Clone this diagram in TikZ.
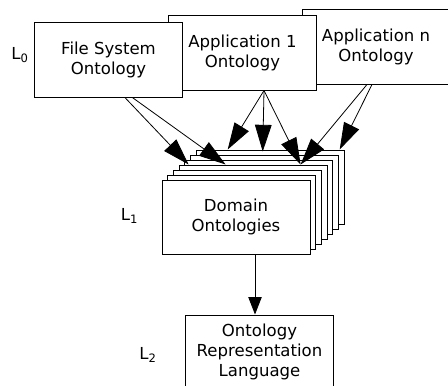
\documentclass[tikz,border=0pt]{standalone}
\usepackage{fontspec}
\setmainfont{DejaVu Sans}
\usetikzlibrary{positioning, calc, arrows.meta}

\begin{document}
\begin{tikzpicture}[
        x=0.75pt, y=-0.75pt,
        every node/.style={font=\fontsize{12.4}{15}\selectfont},
        box/.style={draw, fill=white, rectangle, line width=0.75pt, minimum height=55.5pt, minimum width=111pt, align=center, inner sep=0pt},
        level/.style={inner sep=0pt},
        arr/.style={-{Triangle[length=20pt, width=12.5pt]}, line width=0.6pt},
        smallarr/.style={-{Triangle[length=13pt, width=10pt]}, line width=0.6pt}
    ]
    \useasboundingbox (0,0) rectangle (448,385);

    % L0 ontologies
    \node[box] (appn) at (376,47) {Application n \\ Ontology};
    \node[box] (app1) at (242.5,53) {Application 1 \\ Ontology};
    \node[box] (fs) at (108.5,60) {File System \\ Ontology};

    % L1 stack, back to front
    \node[box] (dom6) at (270.2,187) {};
    \node[box] (dom5) at (264.5,192) {};
    \node[box] (dom4) at (258.8,197) {};
    \node[box] (dom3) at (253.1,202) {};
    \node[box] (dom2) at (247.4,207) {};
    \node[box] (dom1) at (241.7,212) {};
    \node[box] (dom) at (236,217) {Domain \\ Ontologies};

    % L2
    \node[box] (lang) at (259.5,352) {Ontology \\ Representation \\ Language};

    \node[level] (l0) at (20,55) {L\textsubscript{0}};
    \node[level] (l1) at (129.5,216) {L\textsubscript{1}};
    \node[level] (l2) at (148,355) {L\textsubscript{2}};

    % where the arrows leave and land
    \coordinate (fsout) at ($(fs.south west)!0.61!(fs.south east)$);
    \coordinate (fsout2) at ($(fs.south west)!0.66!(fs.south east)$);
    \coordinate (a1out) at ($(app1.south)+(21.5,0)$);
    \coordinate (anout) at ($(appn.south)+(-9,0)$);
    \coordinate (anout2) at ($(appn.south)+(-4,0)$);

    \coordinate (t1) at ($(dom3.north west)+(10,0)$);
    \coordinate (t2) at ($(dom3.north west)+(47,0)$);
    \coordinate (t3) at ($(dom6.north west)+(32,0)$);
    \coordinate (t4) at ($(dom6.north west)+(67,2)$);
    \coordinate (t5) at ($(dom3.north west)+(122,0)$);
    \coordinate (t6) at ($(dom6.north west)+(144,0)$);

    \draw[arr] (fsout) -- (t1);
    \draw[arr] (fsout2) -- (t2);

    \draw[arr] (a1out) -- (t3);
    \draw[arr] (a1out) -- (t4);
    \draw[arr] (a1out) -- (t5);

    \draw[arr] (anout) -- (t5);
    \draw[arr] (anout2) -- (t6);

    \draw[smallarr] ($(dom.south)+(19,0)$) -- ($(lang.north)+(-4.5,0)$);

\end{tikzpicture}
\end{document}
